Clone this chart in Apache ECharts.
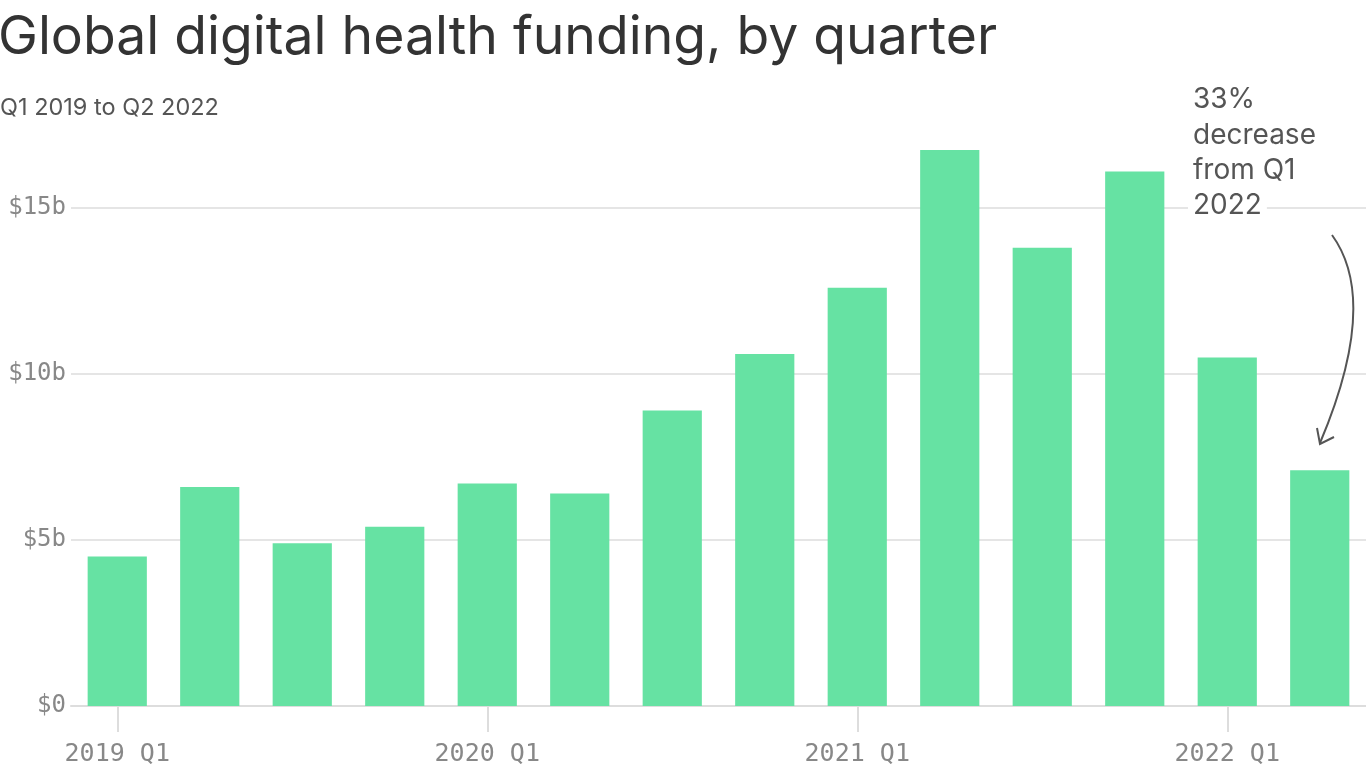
<!DOCTYPE html>
<html>
<head>
<meta charset="utf-8">
<script src="https://cdn.jsdelivr.net/npm/echarts@6/dist/echarts.min.js"></script>
<style>
html,body{margin:0;padding:0;background:#fff;}
#chart{width:1366px;height:768px;}
</style>
</head>
<body>
<div id="chart"></div>
<script>
var categories = ["2019 Q1","2019 Q2","2019 Q3","2019 Q4","2020 Q1","2020 Q2","2020 Q3","2020 Q4","2021 Q1","2021 Q2","2021 Q3","2021 Q4","2022 Q1","2022 Q2"];
var funding = [4.5, 6.6, 4.9, 5.4, 6.7, 6.4, 8.9, 10.6, 12.6, 16.75, 13.8, 16.1, 10.5, 7.1];
var yTicks = [0, 5, 10, 15];
var titleText = "Global digital health funding, by quarter";
var subtitleText = "Q1 2019 to Q2 2022";
var noteLines = ["33%", "decrease", "from Q1", "2022"];

var chart = echarts.init(document.getElementById('chart'));
var sans = "Inter, 'Noto Sans', sans-serif";
var mono = "'DejaVu Sans Mono', monospace";

var graphics = [];
noteLines.forEach(function(t, i){
  graphics.push({
    type: 'text', left: 1188, top: 86 + i*35.3, z: 10,
    style: { text: t, fill: '#555', font: '28px ' + sans, backgroundColor: '#fff', padding: [0, 5, 0, 5] }
  });
});
graphics.push({
  type: 'bezierCurve', z: 10,
  shape: { x1: 1332, y1: 235, x2: 1320, y2: 443, cpx1: 1380, cpy1: 301 },
  style: { stroke: '#555', lineWidth: 2, fill: null }
});
graphics.push({
  type: 'polyline', z: 10,
  shape: { points: [[1317, 428], [1320, 444], [1334, 437]] },
  style: { stroke: '#555', lineWidth: 2, fill: null }
});

chart.setOption({
  animation: false,
  backgroundColor: '#fff',
  title: [
    { text: titleText, left: -2, top: 11, padding: 0,
      textStyle: { fontFamily: sans, fontSize: 53.5, fontWeight: 'normal', color: '#333' } },
    { text: subtitleText, left: 0, top: 96, padding: 0,
      textStyle: { fontFamily: sans, fontSize: 23.5, fontWeight: 'normal', color: '#555' } }
  ],
  grid: { left: 71, right: -3, top: 208, bottom: 62, containLabel: false },
  xAxis: {
    type: 'category', data: categories, boundaryGap: true,
    axisLine: { lineStyle: { color: '#ddd', width: 2 } },
    axisTick: { show: true, alignWithLabel: true, length: 26, interval: 3, lineStyle: { color: '#ddd', width: 2 } },
    axisLabel: { interval: 3, margin: 36, fontFamily: mono, fontSize: 25, color: '#888' }
  },
  yAxis: {
    type: 'value', min: yTicks[0], max: yTicks[yTicks.length-1], interval: 5,
    axisLine: { show: false }, axisTick: { show: false },
    splitLine: { lineStyle: { color: '#e5e5e5', width: 2 } },
    axisLabel: { margin: 5, fontFamily: mono, fontSize: 24, color: '#888',
      formatter: function(v){ return v === 0 ? '$0' : '$' + v + 'b'; } }
  },
  series: [{
    type: 'bar', data: funding, barWidth: '64%', clip: false,
    itemStyle: { color: '#66e2a3' }
  }],
  graphic: graphics
});
</script>
</body>
</html>
